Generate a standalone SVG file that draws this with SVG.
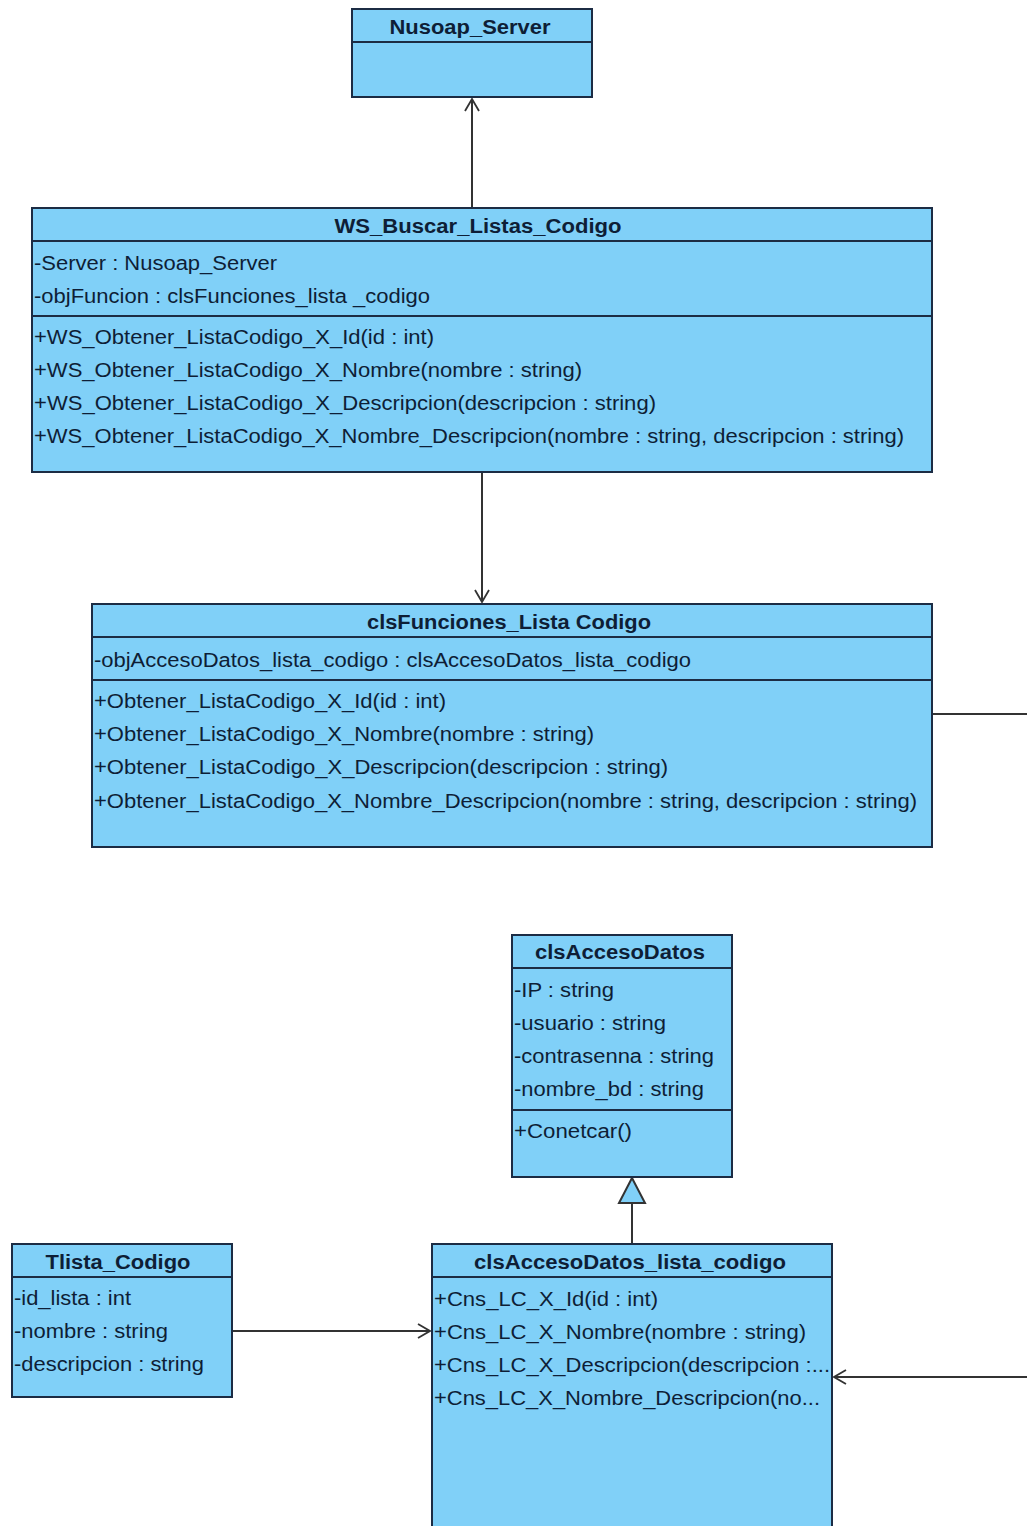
<svg xmlns="http://www.w3.org/2000/svg" width="1027" height="1526" viewBox="0 0 1027 1526">
<style>
.box{fill:#80d0f8;stroke:#1c2c44;stroke-width:2}
.div{stroke:#1c2c44;stroke-width:2}
.t{font-family:"Liberation Sans",Arial,sans-serif;font-size:20px;fill:#0e1e36}
.h{font-family:"Liberation Sans",Arial,sans-serif;font-size:20px;font-weight:bold;fill:#0e1e36;text-anchor:middle}
.c{fill:none;stroke:#333;stroke-width:2}
</style>
<defs>
<marker id="open" markerWidth="14" markerHeight="16" refX="13" refY="8" orient="auto" markerUnits="userSpaceOnUse">
<path d="M1,1 L13,8 L1,15" fill="none" stroke="#333" stroke-width="1.8"/>
</marker>
</defs>
<rect width="1027" height="1526" fill="#fff"/>
<g id="connectors">
<path class="c" d="M472,208 V99" marker-end="url(#open)"/>
<path class="c" d="M482,472 V602" marker-end="url(#open)"/>
<path class="c" d="M932,714 H1045 V1377 H834" marker-end="url(#open)"/>
<path class="c" d="M232,1331 H430" marker-end="url(#open)"/>
<path class="c" d="M632,1244 V1203"/>
<path d="M632,1178 L645,1203 L619,1203 Z" fill="#80d0f8" stroke="#333" stroke-width="2"/>
</g>
<g id="Nusoap_Server">
<rect class="box" x="352" y="9" width="240" height="88"/>
<line class="div" x1="352" y1="42" x2="592" y2="42"/>
<text class="h" x="470" y="34" textLength="161" lengthAdjust="spacingAndGlyphs">Nusoap_Server</text>
</g>
<g id="WS_Buscar_Listas_Codigo">
<rect class="box" x="32" y="208" width="900" height="264"/>
<line class="div" x1="32" y1="241" x2="932" y2="241"/>
<line class="div" x1="32" y1="316" x2="932" y2="316"/>
<text class="h" x="478" y="233" textLength="287" lengthAdjust="spacingAndGlyphs">WS_Buscar_Listas_Codigo</text>
<text class="t" x="34" y="270" textLength="243" lengthAdjust="spacingAndGlyphs">-Server : Nusoap_Server</text>
<text class="t" x="34" y="303" textLength="396" lengthAdjust="spacingAndGlyphs">-objFuncion : clsFunciones_lista _codigo</text>
<text class="t" x="34" y="344" textLength="400" lengthAdjust="spacingAndGlyphs">+WS_Obtener_ListaCodigo_X_Id(id : int)</text>
<text class="t" x="34" y="377" textLength="548" lengthAdjust="spacingAndGlyphs">+WS_Obtener_ListaCodigo_X_Nombre(nombre : string)</text>
<text class="t" x="34" y="410" textLength="622" lengthAdjust="spacingAndGlyphs">+WS_Obtener_ListaCodigo_X_Descripcion(descripcion : string)</text>
<text class="t" x="34" y="443" textLength="870" lengthAdjust="spacingAndGlyphs">+WS_Obtener_ListaCodigo_X_Nombre_Descripcion(nombre : string, descripcion : string)</text>
</g>
<g id="clsFunciones_Lista_Codigo">
<rect class="box" x="92" y="604" width="840" height="243"/>
<line class="div" x1="92" y1="637" x2="932" y2="637"/>
<line class="div" x1="92" y1="680" x2="932" y2="680"/>
<text class="h" x="509" y="629" textLength="284" lengthAdjust="spacingAndGlyphs">clsFunciones_Lista Codigo</text>
<text class="t" x="94" y="667" textLength="597" lengthAdjust="spacingAndGlyphs">-objAccesoDatos_lista_codigo : clsAccesoDatos_lista_codigo</text>
<text class="t" x="94" y="708" textLength="352" lengthAdjust="spacingAndGlyphs">+Obtener_ListaCodigo_X_Id(id : int)</text>
<text class="t" x="94" y="741" textLength="500" lengthAdjust="spacingAndGlyphs">+Obtener_ListaCodigo_X_Nombre(nombre : string)</text>
<text class="t" x="94" y="774" textLength="574" lengthAdjust="spacingAndGlyphs">+Obtener_ListaCodigo_X_Descripcion(descripcion : string)</text>
<text class="t" x="94" y="808" textLength="823" lengthAdjust="spacingAndGlyphs">+Obtener_ListaCodigo_X_Nombre_Descripcion(nombre : string, descripcion : string)</text>
</g>
<g id="clsAccesoDatos">
<rect class="box" x="512" y="935" width="220" height="242"/>
<line class="div" x1="512" y1="968" x2="732" y2="968"/>
<line class="div" x1="512" y1="1110" x2="732" y2="1110"/>
<text class="h" x="620" y="959" textLength="170" lengthAdjust="spacingAndGlyphs">clsAccesoDatos</text>
<text class="t" x="514" y="997" textLength="100" lengthAdjust="spacingAndGlyphs">-IP : string</text>
<text class="t" x="514" y="1030" textLength="152" lengthAdjust="spacingAndGlyphs">-usuario : string</text>
<text class="t" x="514" y="1063" textLength="200" lengthAdjust="spacingAndGlyphs">-contrasenna : string</text>
<text class="t" x="514" y="1096" textLength="190" lengthAdjust="spacingAndGlyphs">-nombre_bd : string</text>
<text class="t" x="514" y="1138" textLength="118" lengthAdjust="spacingAndGlyphs">+Conetcar()</text>
</g>
<g id="Tlista_Codigo">
<rect class="box" x="12" y="1244" width="220" height="153"/>
<line class="div" x1="12" y1="1277" x2="232" y2="1277"/>
<text class="h" x="118" y="1269" textLength="145" lengthAdjust="spacingAndGlyphs">Tlista_Codigo</text>
<text class="t" x="14" y="1305" textLength="117" lengthAdjust="spacingAndGlyphs">-id_lista : int</text>
<text class="t" x="14" y="1338" textLength="154" lengthAdjust="spacingAndGlyphs">-nombre : string</text>
<text class="t" x="14" y="1371" textLength="190" lengthAdjust="spacingAndGlyphs">-descripcion : string</text>
</g>
<g id="clsAccesoDatos_lista_codigo">
<rect class="box" x="432" y="1244" width="400" height="300"/>
<line class="div" x1="432" y1="1277" x2="832" y2="1277"/>
<text class="h" x="630" y="1269" textLength="312" lengthAdjust="spacingAndGlyphs">clsAccesoDatos_lista_codigo</text>
<text class="t" x="434" y="1306" textLength="224" lengthAdjust="spacingAndGlyphs">+Cns_LC_X_Id(id : int)</text>
<text class="t" x="434" y="1339" textLength="372" lengthAdjust="spacingAndGlyphs">+Cns_LC_X_Nombre(nombre : string)</text>
<text class="t" x="434" y="1372" textLength="396" lengthAdjust="spacingAndGlyphs">+Cns_LC_X_Descripcion(descripcion :...</text>
<text class="t" x="434" y="1405" textLength="386" lengthAdjust="spacingAndGlyphs">+Cns_LC_X_Nombre_Descripcion(no...</text>
</g>
</svg>
